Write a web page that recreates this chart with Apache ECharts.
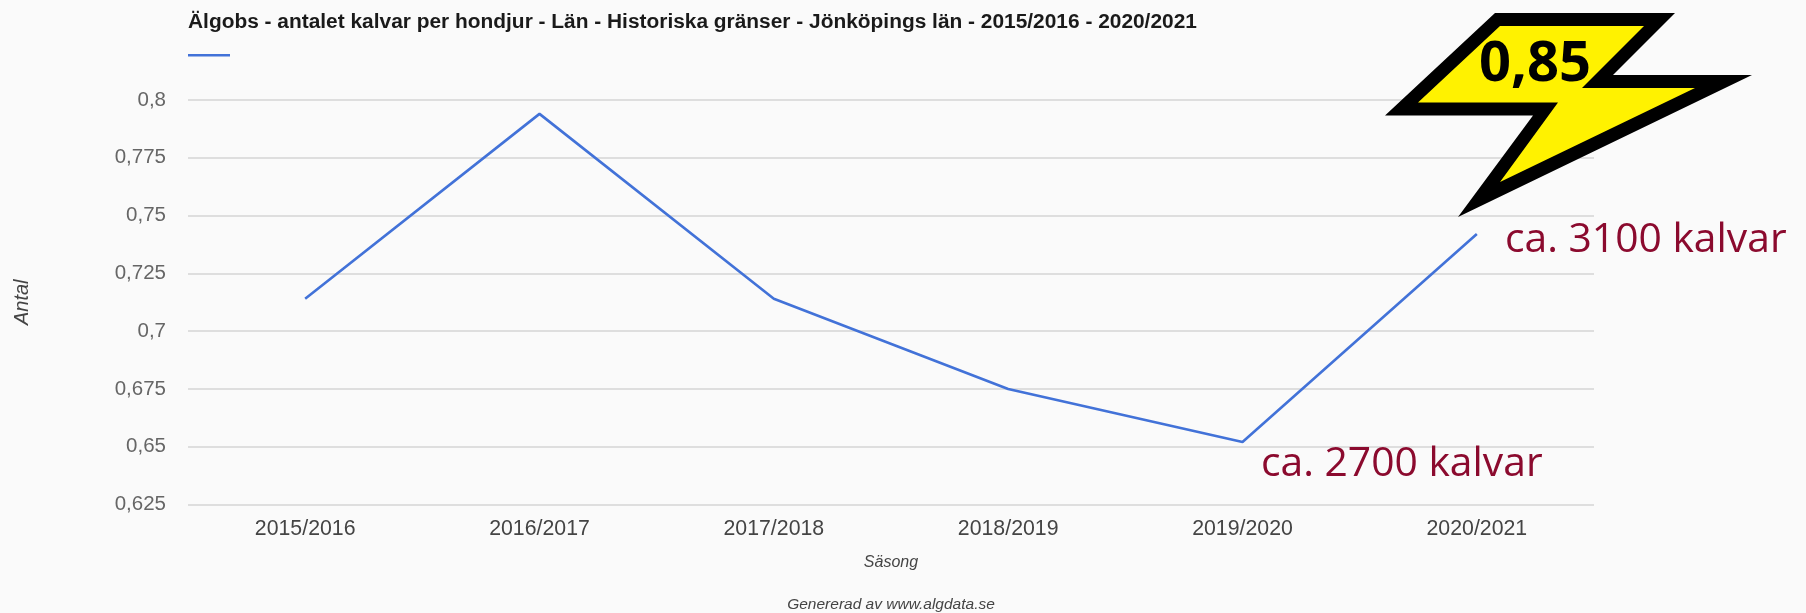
<!DOCTYPE html>
<html><head><meta charset="utf-8">
<style>html,body{margin:0;padding:0;background:#fafafa}#c{width:1806px;height:613px}</style>
<script src="https://cdn.jsdelivr.net/npm/echarts@6/dist/echarts.min.js"></script>
</head><body><div id="c"></div>
<script>
const categories = ['2015/2016','2016/2017','2017/2018','2018/2019','2019/2020','2020/2021'];
const values = [0.714,0.794,0.714,0.675,0.652,0.742];
const yMin = 0.625, yMax = 0.8, yStep = 0.025;
const titleText = 'Älgobs - antalet kalvar per hondjur - Län - Historiska gränser - Jönköpings län - 2015/2016 - 2020/2021';
const boltOuter = [[1495,13],[1675,13],[1613,75],[1752,75],[1458,217],[1533,115.5],[1385,115.5]];
const boltInner = [[1500,26],[1644,26],[1582,88],[1695,88],[1500,182],[1558,102.5],[1418,102.5]];
const sans = '"Liberation Sans",Arial,sans-serif';
const hand = '"Open Sans","Noto Sans",sans-serif';
const blue = '#4272D8', wine = '#8B0A2E';
const chart = echarts.init(document.getElementById('c'));
chart.setOption({
  backgroundColor:'#fafafa',
  animation:false,
  title:{text:titleText,left:188,top:12,padding:0,textStyle:{fontFamily:sans,fontSize:20.9,fontWeight:'bold',color:'#1a1a1a'}},
  grid:{left:188,right:212,top:100,bottom:108.5},
  xAxis:{type:'category',data:categories,boundaryGap:true,
    axisLine:{show:false},axisTick:{show:false},
    axisLabel:{fontFamily:sans,fontSize:21.3,color:'#444',margin:14},
    name:'Säsong',nameLocation:'middle',nameGap:50,
    nameTextStyle:{fontFamily:sans,fontSize:16,fontStyle:'italic',color:'#444'}},
  yAxis:{type:'value',min:yMin,max:yMax,interval:yStep,
    axisLine:{show:false},axisTick:{show:false},
    splitLine:{lineStyle:{color:'#d4d4d4',width:1.5}},
    axisLabel:{fontFamily:sans,fontSize:20.5,color:'#666',margin:22,padding:[6,0,0,0],
      formatter:v=>String(+v.toFixed(3)).replace('.',',')},
    name:'Antal',nameLocation:'middle',nameGap:156,
    nameTextStyle:{fontFamily:sans,fontSize:20,fontStyle:'italic',color:'#444'}},
  series:[{type:'line',data:values,symbol:'none',lineStyle:{color:blue,width:2.6}}],
  graphic:[
    {type:'rect',z:10,shape:{x:188,y:54,width:42,height:2.5},style:{fill:blue}},
    {type:'polygon',z:20,shape:{points:boltOuter},style:{fill:'#000'}},
    {type:'polygon',z:21,shape:{points:boltInner},style:{fill:'#FFF200'}},
    {type:'text',z:22,x:1535,y:65,style:{text:'0,85',fontFamily:hand,fontWeight:'bold',fontSize:56,fill:'#000',align:'center',verticalAlign:'middle'}},
    {type:'text',z:22,x:1505,y:240,style:{text:'ca. 3100 kalvar',fontFamily:hand,fontSize:40.8,fill:wine,align:'left',verticalAlign:'middle'}},
    {type:'text',z:22,x:1261,y:464,style:{text:'ca. 2700 kalvar',fontFamily:hand,fontSize:40.8,fill:wine,align:'left',verticalAlign:'middle'}},
    {type:'text',z:22,x:891,y:605,style:{text:'Genererad av www.algdata.se',fontFamily:sans,fontSize:15.5,fontStyle:'italic',fill:'#444',align:'center',verticalAlign:'middle'}}
  ]
});
</script></body></html>
